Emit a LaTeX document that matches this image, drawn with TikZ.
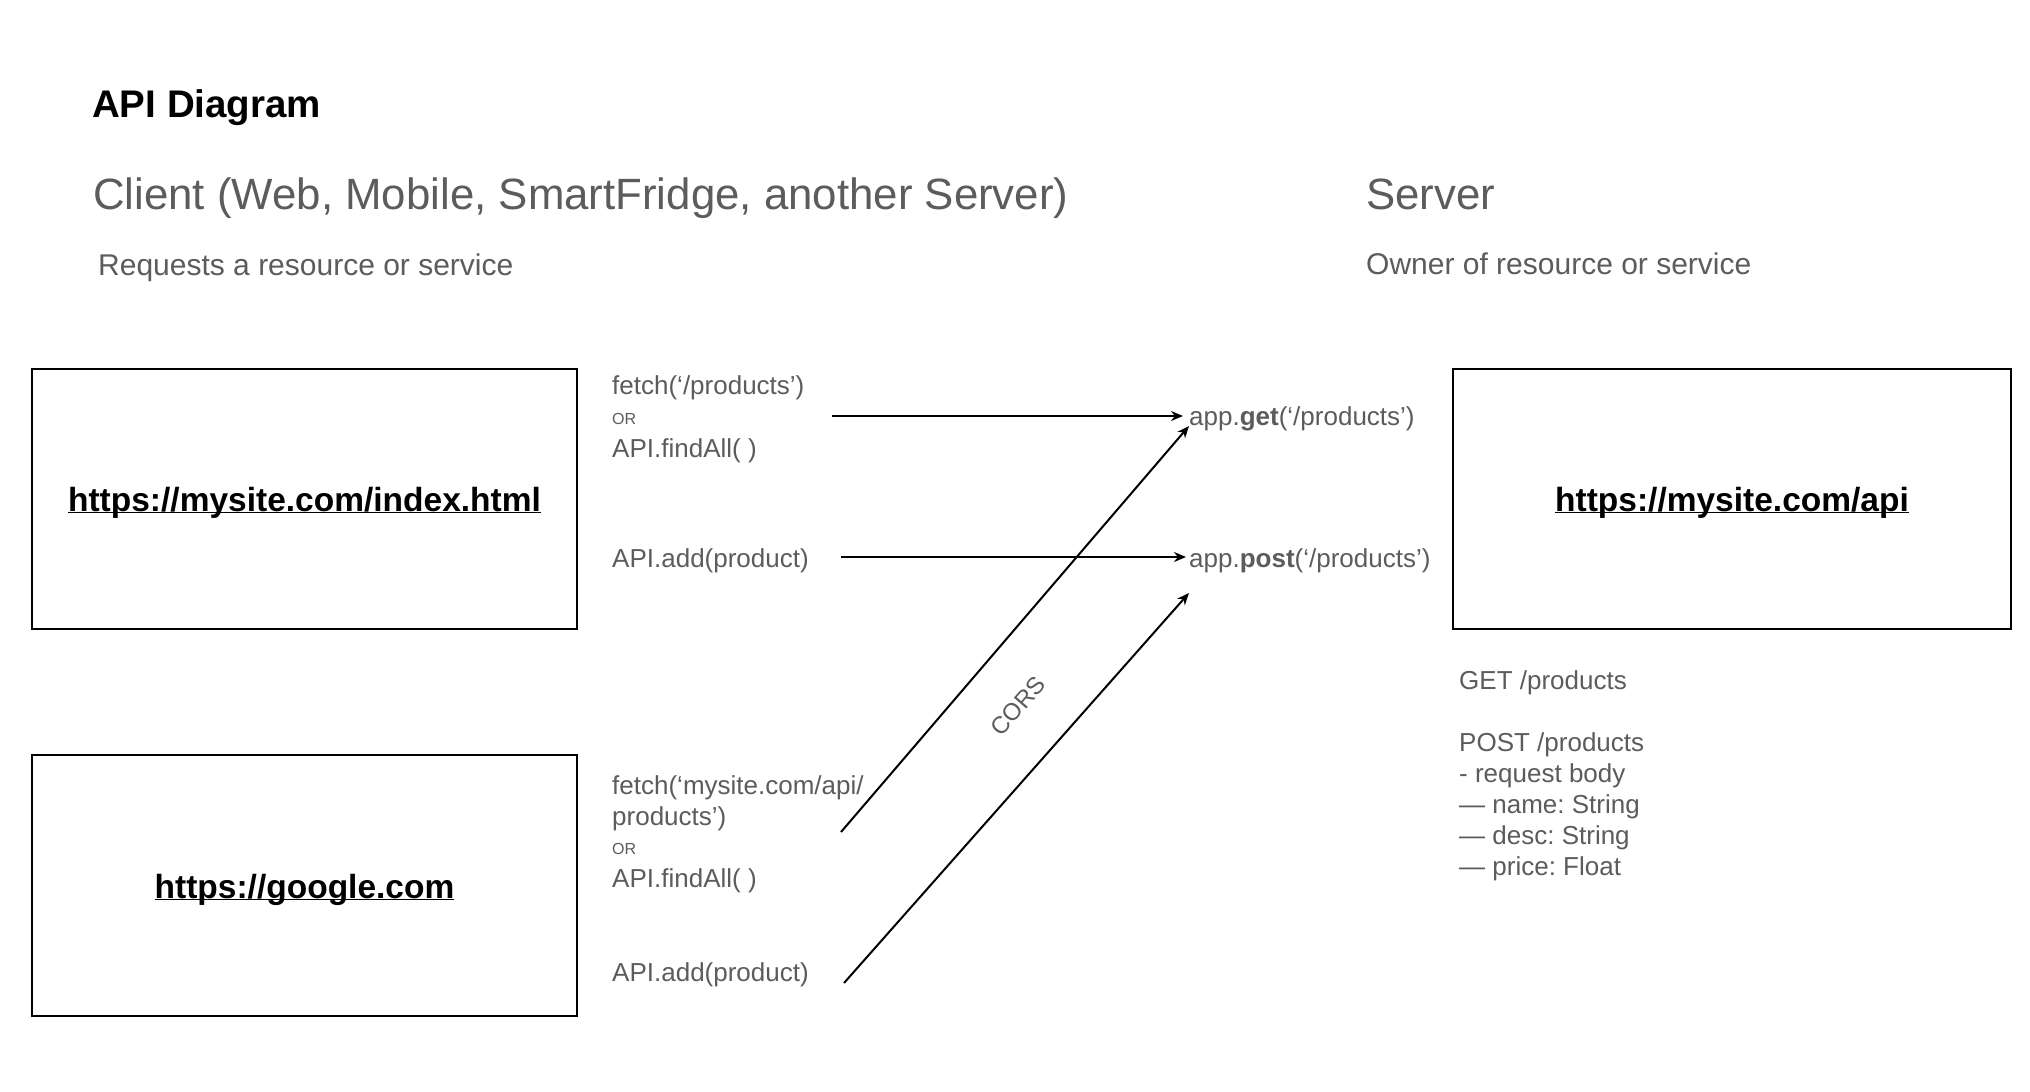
\documentclass[tikz,border=0pt]{standalone}
\usepackage{fontspec}
\setmainfont{Liberation Sans}
\usetikzlibrary{arrows.meta}
\definecolor{txtgray}{RGB}{92,92,92}
\newcommand\myul[1]{\underline{\smash{#1}}}
\frenchspacing
\begin{document}
\begin{tikzpicture}[x=1pt,y=-1pt,
  every node/.style={inner sep=0pt},
  title/.style={anchor=west, text=black, font=\fontsize{38.5}{46}\selectfont\bfseries},
  head/.style={anchor=west, text=txtgray, font=\fontsize{43.8}{52}\selectfont},
  sub/.style={anchor=west, text=txtgray, font=\fontsize{30}{36}\selectfont},
  lbl/.style={anchor=west, text=txtgray, font=\fontsize{26}{31}\selectfont},
  small/.style={anchor=west, text=txtgray, font=\fontsize{16}{19}\selectfont},
  box/.style={draw=black, line width=1.3pt, minimum width=545pt, minimum height=260pt},
  url/.style={text=black, font=\fontsize{33.5}{40}\selectfont\bfseries},
  arr/.style={draw=black, line width=2pt, -{Stealth[length=12pt,width=10pt]}}]
\useasboundingbox[fill=white] (0,0) rectangle (2030,1092);

% headings
\node[title] (ttl) at (92,108) {API Diagram};
\node[head] (client) at (93,198) {Client (Web, Mobile, SmartFridge, another Server)};
\node[sub] (req) at (98,268) {Requests a resource or service};
\node[head] (server) at (1366,194) {Server};
\node[sub] (own) at (1366,264) {Owner of resource or service};

% boxes
\node[box] (b1) at (304.5,499) {};
\node[box, minimum height=261pt] (b2) at (304.5,885.5) {};
\node[box, minimum width=558pt] (b3) at (1732,499) {};
\node[url] (t1) at (304.5,512) {\myul{https://mysite.com/index.html}};
\node[url] (t2) at (304.5,899) {\myul{https://google.com}};
\node[url] (t3) at (1732,512) {\myul{https://mysite.com/api}};

% client calls (top)
\node[lbl] (f1) at (612,388) {fetch(‘/products’)};
\node[small] (or1) at (612,419) {OR};
\node[lbl] (fa1) at (612,451) {API.findAll( )};
\node[lbl] (ad1) at (612,561) {API.add(product)};

% client calls (bottom)
\node[lbl] (f2) at (612,788) {fetch(‘mysite.com/api/};
\node[lbl] (f2b) at (612,819) {products’)};
\node[small] (or2) at (612,849) {OR};
\node[lbl] (fa2) at (612,881) {API.findAll( )};
\node[lbl] (ad2) at (612,975) {API.add(product)};

% server routes
\node[lbl] (get) at (1189,419) {app.\textbf{get}(‘/products’)};
\node[lbl] (post) at (1189,561) {app.\textbf{post}(‘/products’)};

% server description
\node[lbl] (d1) at (1459,683) {GET /products};
\node[lbl] (d2) at (1459,745) {POST /products};
\node[lbl] (d3) at (1459,776) {- request body};
\node[lbl] (d4) at (1459,807) {— name: String};
\node[lbl] (d5) at (1459,838) {— desc: String};
\node[lbl] (d6) at (1459,869) {— price: Float};

% arrows
\coordinate (s1) at (832,416);
\coordinate (e1) at (1183,416);
\coordinate (s2) at (841,557);
\coordinate (e2) at (1186,557);
\coordinate (s3) at (841,832);
\coordinate (e3) at (1189,426);
\coordinate (s4) at (844,983);
\coordinate (e4) at (1189,593);
\draw[arr] (s1) -- (e1);
\draw[arr] (s2) -- (e2);
\draw[arr] (s3) -- (e3);
\draw[arr] (s4) -- (e4);

\node[text=txtgray, font=\fontsize{24}{29}\selectfont, rotate=49] (cors) at (1018,706) {CORS};
\end{tikzpicture}
\end{document}
